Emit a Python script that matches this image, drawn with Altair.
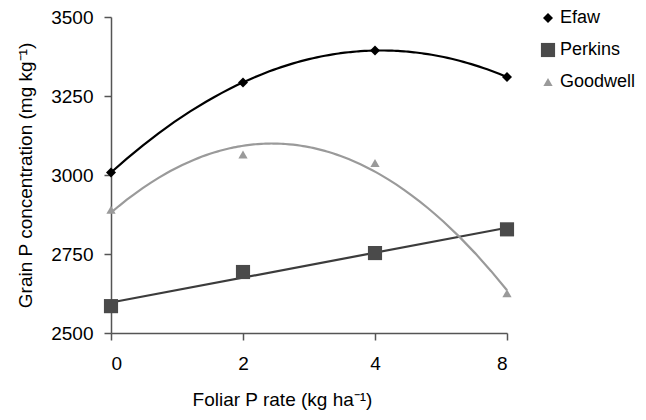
import altair as alt
import pandas as pd

rates = ["0", "2", "4", "8"]
positions = [0, 1, 2, 3]
efaw = [3008, 3293, 3394, 3310]
perkins = [2585, 2693, 2753, 2828]
goodwell = [2890, 3065, 3038, 2626]
series_names = ["Efaw", "Perkins", "Goodwell"]
point_colors = ["#000000", "#4a4a4a", "#9a9a9a"]
line_colors = ["#000000", "#3c3c3c", "#9a9a9a"]
series_shapes = ["diamond", "square", "triangle-up"]
series_sizes = [100, 200, 85]
y_ticks = [2500, 2750, 3000, 3250, 3500]

rows = []
for name, vals in zip(series_names, [efaw, perkins, goodwell]):
    for p, r, v in zip(positions, rates, vals):
        rows.append({"series": name, "pos": p, "rate": r, "value": v})
df = pd.DataFrame(rows)

FONT = "Liberation Sans"
label_expr = "[" + ",".join("'%s'" % r for r in rates) + "][datum.value]"

x_enc = alt.X(
    "pos:Q",
    scale=alt.Scale(domain=[0, 3], nice=False, zero=False),
    axis=alt.Axis(
        values=positions, labelExpr=label_expr, title="Foliar P rate (kg ha⁻¹)",
        grid=False, tickSize=7, labelPadding=14, labelFontSize=19,
        titleX=171, titleY=66, titleBaseline="middle", titleAnchor="start", titleAlign="center",
    ),
)
y_enc = alt.Y(
    "value:Q",
    scale=alt.Scale(domain=[2500, 3500], nice=False, zero=False),
    axis=alt.Axis(
        values=y_ticks, format="d", title="Grain P concentration (mg kg⁻¹)",
        grid=False, tickSize=7, labelPadding=11, labelFontSize=19, titlePadding=15,
    ),
)

base = alt.Chart(df)

def fit_line(name, color, method, order=None):
    kw = {"method": method, "extent": [0, 3]}
    if order is not None:
        kw["order"] = order
    return (
        base.transform_filter(alt.datum.series == name)
        .transform_regression("pos", "value", **kw)
        .mark_line(color=color, strokeWidth=2.2)
        .encode(x=x_enc, y=y_enc)
    )

lines = [
    fit_line("Perkins", line_colors[1], "linear"),
    fit_line("Goodwell", line_colors[2], "poly", 2),
    fit_line("Efaw", line_colors[0], "poly", 2),
]

legend = alt.Legend(
    title=None, orient="none", legendX=428, legendY=-8, labelFontSize=18,
    labelColor="#000000", labelFont=FONT, rowPadding=14, padding=0,
    symbolStrokeWidth=0, labelOffset=3,
)

points = base.mark_point(filled=True, opacity=1).encode(
    x=x_enc,
    y=y_enc,
    color=alt.Color("series:N", scale=alt.Scale(domain=series_names, range=point_colors), legend=legend),
    shape=alt.Shape("series:N", scale=alt.Scale(domain=series_names, range=series_shapes), legend=legend),
    size=alt.Size("series:N", scale=alt.Scale(type="ordinal", domain=series_names, range=series_sizes), legend=legend),
)

chart = (
    alt.layer(*lines, points)
    .properties(
        width=396, height=316,
        autosize=alt.AutoSizeParams(type="none"),
        padding={"left": 103, "top": 9, "right": 131, "bottom": 79},
        background="#ffffff",
    )
    .configure_view(stroke=None)
    .configure_axis(
        labelFont=FONT, titleFont=FONT, labelFontSize=19, titleFontSize=19,
        labelColor="#000000", titleColor="#000000", titleFontWeight="normal",
        domainColor="#555555", tickColor="#555555", domainWidth=1.5, tickWidth=1.5,
    )
)

chart.save("out.html", embed_options={"renderer": "svg", "actions": False})
